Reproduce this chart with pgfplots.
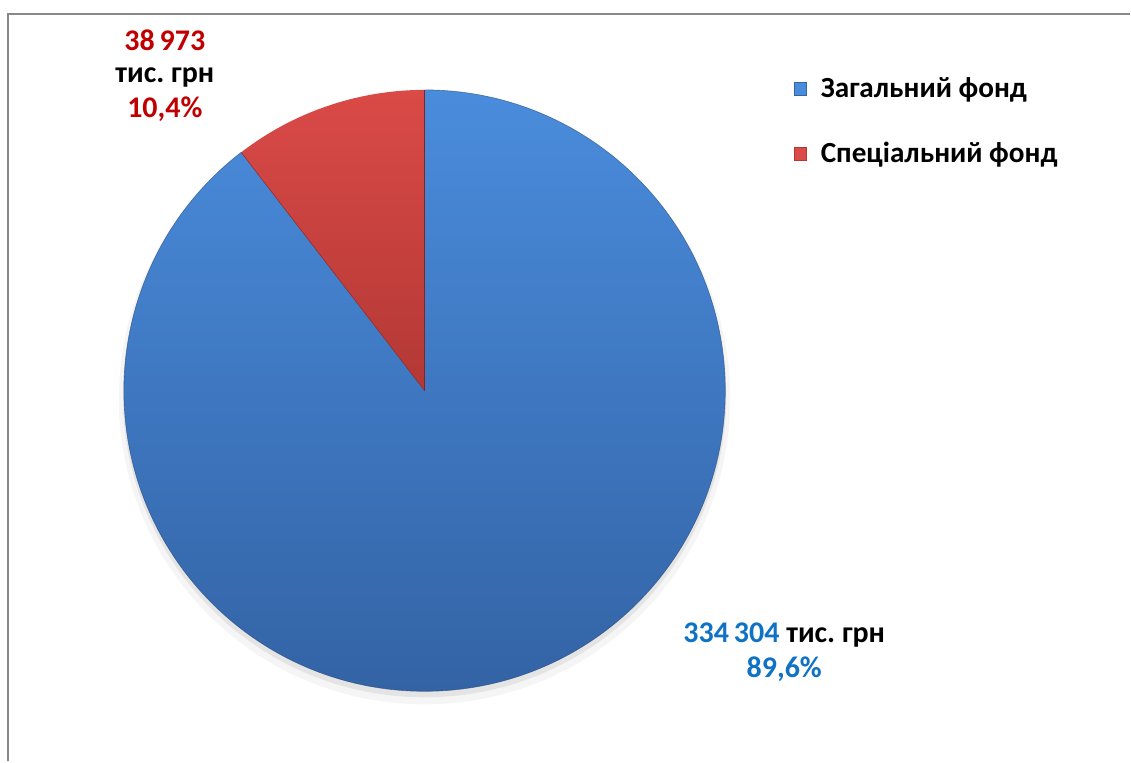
\documentclass[border=0pt]{standalone}
\usepackage{fontspec}
\setmainfont{Carlito}
\usepackage{pgfplots}
\usepackage{pgfplotstable}
\pgfplotsset{compat=1.18}
\definecolor{blueTop}{HTML}{4A8CDC}
\definecolor{blueBot}{HTML}{3363A5}
\definecolor{redTop}{HTML}{DA4A47}
\definecolor{redBot}{HTML}{B33835}
\definecolor{lblRed}{HTML}{C00000}
\definecolor{lblBlue}{HTML}{0F72C4}
\definecolor{frame}{HTML}{888888}
\pgfplotstableread{
fund value
zag 334304
spec 38973
}\funds
\frenchspacing
\begin{document}
\begin{tikzpicture}
\pgfplotstablegetelem{0}{value}\of\funds \let\vA\pgfplotsretval
\pgfplotstablegetelem{1}{value}\of\funds \let\vB\pgfplotsretval
\pgfkeys{/pgf/fpu=true,/pgf/fpu/output format=fixed}
\pgfmathsetmacro{\angB}{360*\vB/(\vA+\vB)}
\pgfkeys{/pgf/fpu=false}
\begin{axis}[x=0.5pt,y=0.5pt,xmin=0,xmax=1131,ymin=0,ymax=762,
  scale only axis, hide axis, clip=false,
  legend style={at={(axis cs:788,693)},anchor=north west,draw=none,fill=none,
    font=\bfseries\fontsize{14.6}{17}\selectfont,row sep=17pt,
    /tikz/every odd column/.append style={column sep=5pt}},
  legend cell align=left,
  legend image code/.code={\draw[#1] (0pt,-3.1pt) rectangle (6.2pt,3.1pt);}]
\path (axis cs:0,0) rectangle (axis cs:1131,762);
\draw[frame, line width=1.1pt] (axis cs:8,0) -- (axis cs:8,748) -- (axis cs:1131,748);
% shadow
\fill[black, opacity=0.04] (axis cs:425,363) circle[radius=153pt];
\fill[black, opacity=0.07] (axis cs:425,366) circle[radius=151pt];
% slices
\path[top color=blueTop, bottom color=blueBot]
  (axis cs:425,371) -- (axis cs:425,672) arc[start angle=90, end angle={90+\angB-360}, radius=150.5pt] -- cycle;
\path[top color=redTop, bottom color=redBot]
  (axis cs:425,371) -- (axis cs:425,672) arc[start angle=90, end angle={90+\angB}, radius=150.5pt] -- cycle;
\draw[blueBot!70!black, line width=0.3pt, opacity=0.6]
  (axis cs:425,371) ++(90:150.5pt) arc[start angle=90, end angle={90+\angB-360}, radius=150.5pt];
\draw[redBot!70!black, line width=0.4pt] (axis cs:425,371) -- (axis cs:425,672);
\draw[redBot!80!black, line width=0.3pt] (axis cs:425,371) -- ++({90+\angB}:150.5pt);
\addlegendimage{fill=blueTop, draw=blueBot}
\addlegendentry{Загальний фонд}
\addlegendimage{fill=redTop, draw=redBot}
\addlegendentry{Спеціальний фонд}
\node[font=\bfseries\fontsize{15}{18}\selectfont, text=lblRed] at (axis cs:165,722) {38\,973};
\node[font=\bfseries\fontsize{15}{18}\selectfont] at (axis cs:165,684) {тис. грн};
\node[font=\bfseries\fontsize{15}{18}\selectfont, text=lblRed] at (axis cs:165,653) {10,4\%};
\node[font=\bfseries\fontsize{15}{18}\selectfont] at (axis cs:785,126) {\textcolor{lblBlue}{334\,304} тис. грн};
\node[font=\bfseries\fontsize{15}{18}\selectfont, text=lblBlue] at (axis cs:785,92) {89,6\%};
\end{axis}
\end{tikzpicture}
\end{document}
